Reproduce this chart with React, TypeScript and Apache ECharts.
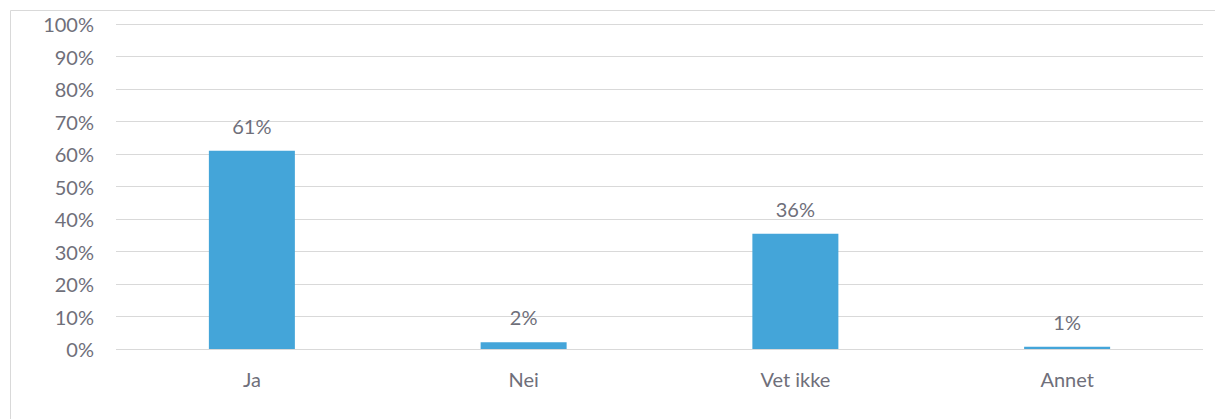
import React, { useEffect, useRef } from "react";
import * as echarts from "echarts";

const categories = ["Ja", "Nei", "Vet ikke", "Annet"];
const values = [61, 2.1, 35.5, 0.7];
const labels = ["61%", "2%", "36%", "1%"];

export default function App() {
  const ref = useRef<HTMLDivElement>(null);
  useEffect(() => {
    const chart = echarts.init(ref.current!, null, { renderer: "svg" });
    chart.setOption({
      animation: false,
      textStyle: { fontFamily: "Lato" },
      graphic: [
        {
          type: "rect",
          shape: { x: 10.5, y: 10.5, width: 1220, height: 420 },
          style: { fill: "none", stroke: "#d9d9d9", lineWidth: 1 },
          silent: true,
        },
      ],
      grid: { left: 116, right: 12, top: 24, bottom: 70 },
      xAxis: {
        type: "category",
        data: categories,
        axisLine: { show: false },
        axisTick: { show: false },
        axisLabel: { color: "#6f6f7a", fontSize: 20, margin: 20, fontFamily: "Lato" },
      },
      yAxis: {
        type: "value",
        min: 0,
        max: 100,
        interval: 10,
        axisLine: { show: false },
        axisTick: { show: false },
        axisLabel: {
          color: "#6f6f7a",
          fontSize: 20,
          margin: 22,
          fontFamily: "Lato",
          formatter: (v: number) => v + "%",
        },
        splitLine: { lineStyle: { color: "#d9d9d9", width: 1 } },
      },
      series: [
        {
          type: "bar",
          data: values,
          barWidth: 86,
          itemStyle: { color: "#44a5d9" },
          label: {
            show: true,
            position: "top",
            distance: 15,
            color: "#6f6f7a",
            fontSize: 20,
            fontFamily: "Lato",
            formatter: (p: any) => labels[p.dataIndex],
          },
        },
      ],
    });
    return () => chart.dispose();
  }, []);
  return (
    <div
      ref={ref}
      style={{ position: "absolute", left: 0, top: 0, width: 1215, height: 419, background: "#fff" }}
    />
  );
}
